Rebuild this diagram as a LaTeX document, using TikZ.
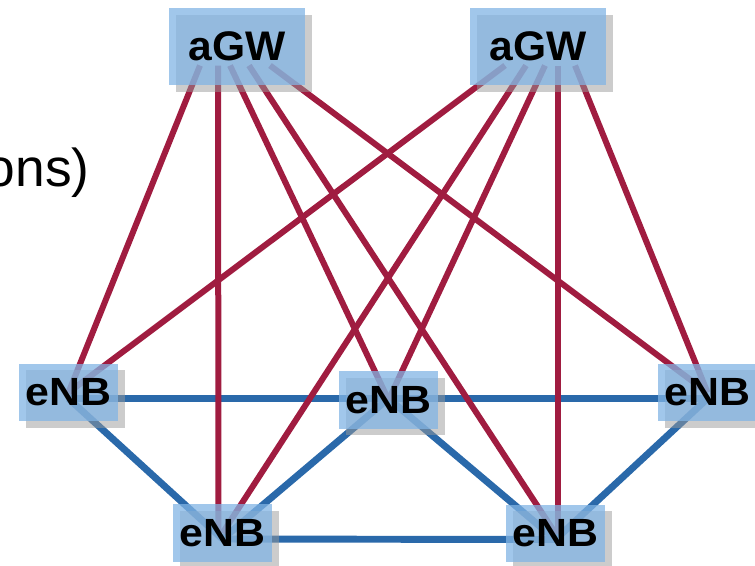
\documentclass[tikz,border=0pt]{standalone}
\usepackage{fontspec}
\usepackage{graphicx}
\setmainfont{Liberation Sans}
\usetikzlibrary{calc,shadows}
\definecolor{linkred}{RGB}{160,28,64}
\definecolor{linkblue}{RGB}{42,105,170}
\definecolor{boxblue}{RGB}{130,180,228}
\pgfdeclarelayer{bg}
\pgfsetlayers{bg,main}
\newcommand\enbtxt{\scalebox{1.09}[1]{eNB}}
\newcommand\gwtxt{\scalebox{1.03}[1]{aGW}}
\begin{document}
\begin{tikzpicture}[x=0.75pt,y=-0.75pt,
  box/.style={fill=boxblue, fill opacity=0.75, text opacity=1, inner sep=0pt, text=black,
     drop shadow={shadow xshift=5.25pt, shadow yshift=-4.9pt, opacity=0.5, fill=black!40}},
  gw/.style={box, minimum width=102pt, minimum height=57.75pt, font=\fontsize{31}{31}\selectfont\bfseries},
  enb/.style={box, minimum width=74.25pt, minimum height=43pt, font=\fontsize{29.5}{29.5}\selectfont\bfseries},
  redlink/.style={draw=linkred, line width=4.5pt},
  bluelink/.style={draw=linkblue, line width=5.2pt},
  lbl/.style={anchor=base east, inner sep=0pt, font=\fontsize{40}{40}\selectfont}
]
\useasboundingbox (0,0) rectangle (755,565);

\node[gw] (gwL) at (237,46.5) {\gwtxt};
\node[gw] (gwR) at (538,46.5) {\gwtxt};
\node[enb] (eL) at (68.5,392.5) {\enbtxt};
\node[enb] (eM) at (388.5,400) {\enbtxt};
\node[enb] (eR) at (707.5,392.5) {\enbtxt};
\node[enb] (eBL) at (222.5,533) {\enbtxt};
\node[enb] (eBR) at (555.5,533.5) {\enbtxt};
\node[lbl] (note) at (90,186) {ons)};

\begin{pgfonlayer}{bg}
  % access ring
  \draw[bluelink] ($(eL)+(0,6)$) -- ($(eM)+(0,-1.5)$);
  \draw[bluelink] ($(eM)+(0,-1.5)$) -- ($(eR)+(0,6)$);
  \draw[bluelink] ($(eL)+(0,6)$) -- ($(eBL)+(0,6)$);
  \draw[bluelink] ($(eM)+(0,-1.5)$) -- ($(eBL)+(0,6)$);
  \draw[bluelink] ($(eM)+(0,-1.5)$) -- ($(eBR)+(0,6)$);
  \draw[bluelink] ($(eR)+(0,6)$) -- ($(eBR)+(0,6)$);
  \draw[bluelink] ($(eBL)+(0,6)$) -- ($(eBR)+(0,6)$);
  % left gateway
  \draw[redlink] ($(gwL)+(-37,19)$) -- (eL.center);
  \draw[redlink] ($(gwL)+(-19,19)$) -- ($(eBL)+(-4,0)$);
  \draw[redlink] ($(gwL)+(-7,19)$) -- (eM.center);
  \draw[redlink] ($(gwL)+(12,19)$) -- (eBR.center);
  \draw[redlink] ($(gwL)+(33,19)$) -- (eR.center);
  % right gateway
  \draw[redlink] ($(gwR)+(-33,19)$) -- (eL.center);
  \draw[redlink] ($(gwR)+(-12,19)$) -- (eBL.center);
  \draw[redlink] ($(gwR)+(7,19)$) -- (eM.center);
  \draw[redlink] ($(gwR)+(20,19)$) -- ($(eBR)+(2.5,0)$);
  \draw[redlink] ($(gwR)+(37,19)$) -- (eR.center);
\end{pgfonlayer}
\end{tikzpicture}
\end{document}
